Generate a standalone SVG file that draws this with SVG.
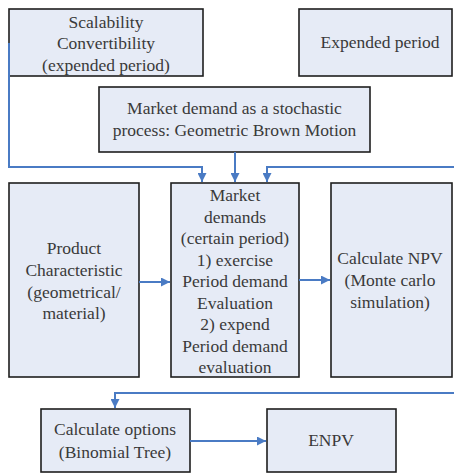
<svg xmlns="http://www.w3.org/2000/svg" width="454" height="473" viewBox="0 0 454 473">
<defs>
<marker id="ah" viewBox="0 0 10 10" refX="10" refY="5" markerWidth="9" markerHeight="9" markerUnits="userSpaceOnUse" orient="auto">
<path d="M0,0 L10,5 L0,10 Z" fill="#4a7bc4"/>
</marker>
<style>
.box{fill:#e6ebf6;stroke:#1e1e1e;stroke-width:1.6}
.t{font-size:17.5px;fill:#3a3a3a;text-anchor:middle}
.c{fill:none;stroke:#4a7bc4;stroke-width:2}
</style>
</defs>
<rect width="454" height="473" fill="#ffffff"/>
<g font-family="'Liberation Serif', 'Times New Roman', serif">
<g id="scalability">
<rect class="box" x="9" y="9" width="194" height="67"/>
<text class="t" x="106" y="28">Scalability</text>
<text class="t" x="106" y="49">Convertibility</text>
<text class="t" x="106" y="71">(expended period)</text>
</g>
<g id="expended">
<rect class="box" x="299" y="9" width="153" height="67"/>
<text class="t" x="380" y="48">Expended period</text>
</g>
<g id="stochastic">
<rect class="box" x="99" y="87" width="271" height="65"/>
<text class="t" x="234.5" y="114">Market demand as a stochastic</text>
<text class="t" x="234.5" y="136">process: Geometric Brown Motion</text>
</g>
<g id="product">
<rect class="box" x="9" y="183" width="130" height="194"/>
<text class="t" x="74" y="254">Product</text>
<text class="t" x="74" y="276">Characteristic</text>
<text class="t" x="74" y="298">(geometrical/</text>
<text class="t" x="74" y="319">material)</text>
</g>
<g id="market">
<rect class="box" x="171" y="183" width="128" height="194"/>
<text class="t" x="235" y="201">Market</text>
<text class="t" x="235" y="222.5">demands</text>
<text class="t" x="235" y="244">(certain period)</text>
<text class="t" x="235" y="265.5">1) exercise</text>
<text class="t" x="235" y="287">Period demand</text>
<text class="t" x="235" y="308.5">Evaluation</text>
<text class="t" x="235" y="330">2) expend</text>
<text class="t" x="235" y="351.5">Period demand</text>
<text class="t" x="235" y="373">evaluation</text>
</g>
<g id="npv">
<rect class="box" x="331" y="183" width="121" height="194"/>
<text class="t" x="390" y="264">Calculate NPV</text>
<text class="t" x="390" y="286">(Monte carlo</text>
<text class="t" x="390" y="308">simulation)</text>
</g>
<g id="options">
<rect class="box" x="41" y="409" width="149" height="63"/>
<text class="t" x="115" y="435">Calculate options</text>
<text class="t" x="115" y="458">(Binomial Tree)</text>
</g>
<g id="enpv">
<rect class="box" x="267" y="409" width="129" height="63"/>
<text class="t" x="331" y="446">ENPV</text>
</g>
</g>
<g id="connectors">
<path class="c" d="M9,43 V167 H202 V182" marker-end="url(#ah)"/>
<path class="c" d="M235,152 V182" marker-end="url(#ah)"/>
<path class="c" d="M454,167 H267 V182" marker-end="url(#ah)"/>
<path class="c" d="M139,282 H170" marker-end="url(#ah)"/>
<path class="c" d="M299,280 H330" marker-end="url(#ah)"/>
<path class="c" d="M454,393 H115 V408" marker-end="url(#ah)"/>
<path class="c" d="M190,441 H266" marker-end="url(#ah)"/>
</g>
</svg>
